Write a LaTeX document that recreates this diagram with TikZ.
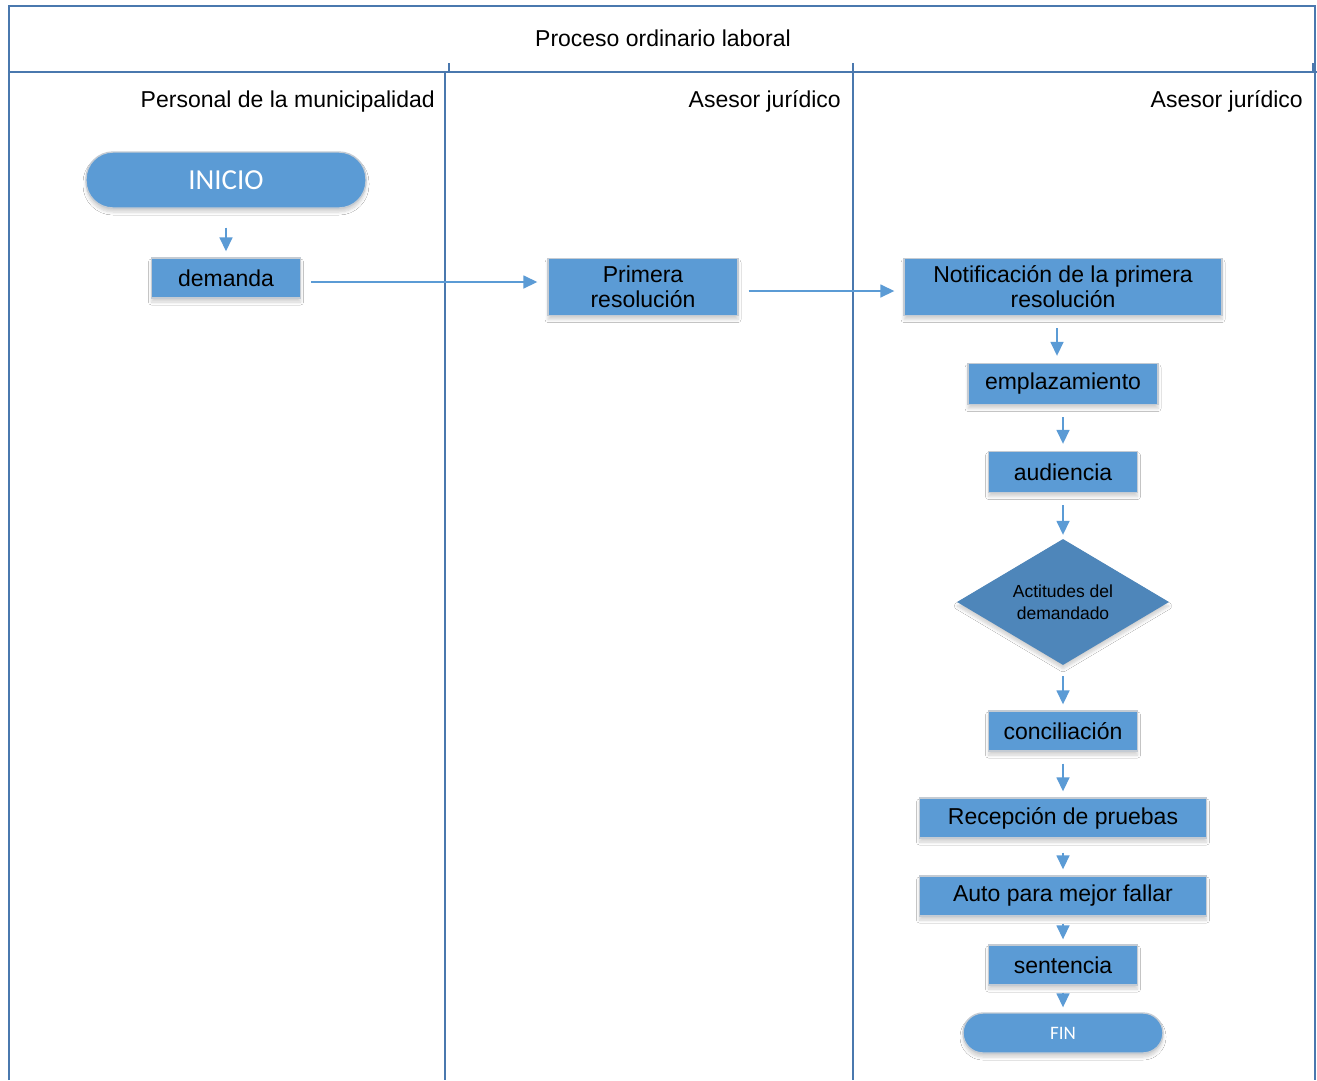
\documentclass[tikz,border=0pt]{standalone}
\usepackage{fontspec}
\setmainfont{Liberation Sans}
\newfontfamily\carlito{Carlito}
\usetikzlibrary{shapes.geometric,arrows.meta,shadows.blur}
\definecolor{frameblue}{HTML}{4A78AE}
\definecolor{boxblue}{HTML}{5B9BD5}
\definecolor{decblue}{HTML}{4E86BA}
\definecolor{boxedge}{HTML}{C4CBD3}
\tikzset{
  frame/.style={draw=frameblue, line width=1.6pt},
  soft/.style={blur shadow={shadow xshift=0pt, shadow yshift=-4pt, shadow opacity=18,
    shadow blur radius=3pt, shadow blur steps=6}},
  procbox/.style={rectangle, fill=boxblue, draw=boxedge, line width=1.4pt, soft,
    inner sep=0pt, align=center, font=\fontsize{23}{25}\selectfont},
  terminal/.style={rectangle, fill=boxblue, draw=boxedge, line width=1.4pt, soft,
    inner sep=0pt, text=white},
  decision/.style={diamond, aspect=1.7, fill=decblue, inner sep=0pt, soft,
    minimum width=212pt, minimum height=126pt, align=center,
    font=\fontsize{17.5}{22}\selectfont},
  lanetitle/.style={anchor=base east, inner sep=0pt, font=\fontsize{23}{26}\selectfont},
  flow/.style={draw=boxblue, line width=1.6pt, -{Triangle[length=14pt,width=13pt]}}
}
\begin{document}
\begin{tikzpicture}[x=1pt, y=-1pt]
\useasboundingbox (0,0) rectangle (1317,1080);
\fill[white] (0,0) rectangle (1317,1080);

% pool frame and lanes
\draw[frame] (9,1080) -- (9,6) -- (1315,6) -- (1315,1080);
\draw[frame] (9,72) -- (1317,72);
\draw[frame] (445,72) -- (445,1080);
\draw[frame] (449,63) -- (449,72);
\draw[frame] (853,63) -- (853,1080);
\draw[frame] (1313,63) -- (1313,72);

\node[font=\fontsize{23}{26}\selectfont, anchor=base] (pooltitle) at (663,46) {Proceso ordinario laboral};
\node[lanetitle] (lane1) at (435,107) {Personal de la municipalidad};
\node[lanetitle] (lane2) at (841,107) {Asesor jurídico};
\node[lanetitle] (lane3) at (1303,107) {Asesor jurídico};

% flow nodes
\node[terminal, rounded corners=27pt, minimum width=280pt, minimum height=56pt,
      font=\carlito\fontsize{29}{32}\selectfont] (inicio) at (226,180) {INICIO};
\node[procbox, minimum width=149pt, minimum height=40pt] (demanda) at (226,278) {demanda};
\node[procbox, minimum width=190pt, minimum height=57pt] (primera) at (643,287) {Primera\\resolución};
\node[procbox, minimum width=318pt, minimum height=57pt] (notif) at (1063,287) {Notificación de la primera\\resolución};
\node[procbox, minimum width=190pt, minimum height=41pt] (emplaz) at (1063,384) {emplazamiento};
\node[procbox, minimum width=149pt, minimum height=41pt] (aud) at (1063,472) {audiencia};
\node[decision] (actitud) at (1063,602) {Actitudes del\\demandado};
\node[procbox, minimum width=149pt, minimum height=40pt] (concil) at (1063,731) {conciliación};
\node[procbox, minimum width=287pt, minimum height=40pt] (recep) at (1063,818) {Recepción de pruebas};
\node[procbox, minimum width=287pt, minimum height=40pt] (autof) at (1063,896) {Auto para mejor fallar};
\node[procbox, minimum width=149pt, minimum height=40pt] (sent) at (1063,965) {sentencia};
\node[terminal, rounded corners=20pt, minimum width=200pt, minimum height=40pt,
      font=\carlito\fontsize{19}{21}\selectfont] (fin) at (1063,1033) {FIN};

% connectors
\draw[flow, shorten <=19pt, shorten >=6pt] (inicio) -- (demanda);
\draw[flow, shorten <=10pt, shorten >=10pt] ([yshift=-4pt]demanda.east) -- ([yshift=5pt]primera.west);
\draw[flow, shorten <=10pt, shorten >=9pt] ([yshift=-4pt]primera.east) -- ([yshift=-4pt]notif.west);
\draw[flow, shorten <=12pt, shorten >=7pt] ([xshift=-6pt]notif.south) -- ([xshift=-6pt]emplaz.north);
\draw[flow, shorten <=12pt, shorten >=7pt] (emplaz) -- (aud);
\draw[flow, shorten <=12pt, shorten >=4pt] (aud) -- (actitud);
\draw[flow, shorten <=11pt, shorten >=6pt] (actitud) -- (concil);
\draw[flow, shorten <=12pt, shorten >=6pt] (concil) -- (recep);
\draw[flow, shorten <=14pt, shorten >=6pt] (recep) -- (autof);
\draw[flow, shorten <=7pt, shorten >=5pt] (autof) -- (sent);
\draw[flow, shorten <=7pt, shorten >=5pt] (sent) -- (fin);
\end{tikzpicture}
\end{document}
